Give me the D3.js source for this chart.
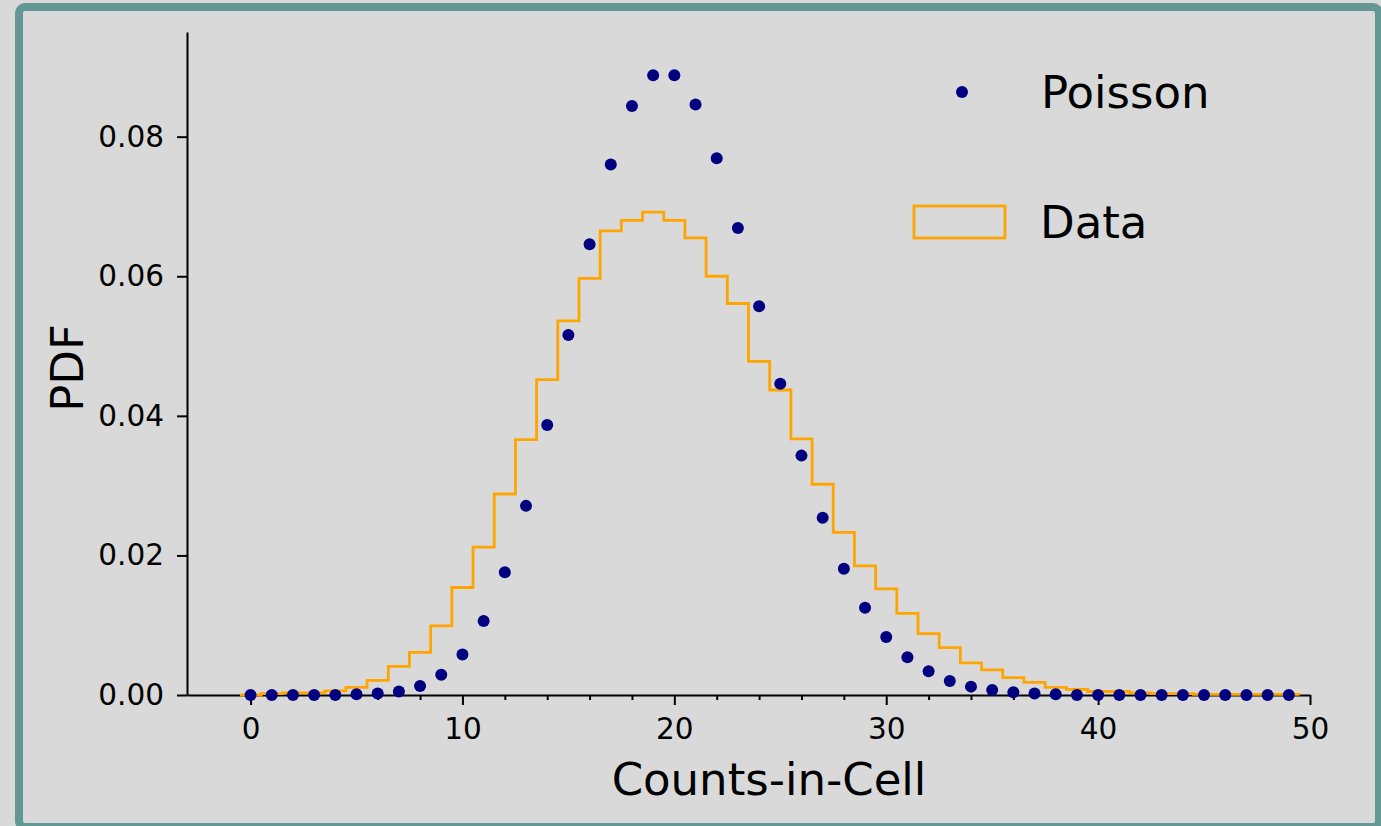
<!DOCTYPE html>
<html>
<head>
<meta charset="utf-8">
<script src="https://cdn.jsdelivr.net/npm/d3@7"></script>
<style>
	body { margin: 0; background: #d9d9d9; }
	svg { display: block; font-family: "DejaVu Sans", sans-serif; }
</style>
</head>
<body>
<div id="chart"></div>
<script>
// counts-in-cell k = 0..49
const counts = d3.range(0, 50);

// Poisson points
const poissonVals = [
	0.0000, 0.0000, 0.0000, 0.0000, 0.0000, 0.0001, 0.0002, 0.0005, 0.0013, 0.0029,
	0.0058, 0.0106, 0.0176, 0.0271, 0.0387, 0.0516, 0.0646, 0.0760, 0.0844, 0.0888,
	0.0888, 0.0846, 0.0769, 0.0669, 0.0557, 0.0446, 0.0343, 0.0254, 0.0181, 0.0125,
	0.0083, 0.0054, 0.0034, 0.0020, 0.0012, 0.0007, 0.0004, 0.0002, 0.0001, 0.0000,
	0.0000, 0.0000, 0.0000, 0.0000, 0.0000, 0.0000, 0.0000, 0.0000, 0.0000, 0.0000
];

// histogram of the data, one bin per count
const dataVals = [
	0.0000, 0.0002, 0.0003, 0.0003, 0.0006, 0.0011, 0.0021, 0.0041, 0.0061, 0.0099,
	0.0154, 0.0212, 0.0288, 0.0366, 0.0452, 0.0536, 0.0597, 0.0665, 0.0680, 0.0692,
	0.0680, 0.0655, 0.0600, 0.0561, 0.0478, 0.0437, 0.0367, 0.0302, 0.0233, 0.0185,
	0.0152, 0.0117, 0.0088, 0.0068, 0.0046, 0.0036, 0.0025, 0.0018, 0.0011, 0.0008,
	0.0005, 0.0005, 0.0003, 0.0002, 0.0002, 0.0001, 0.0001, 0.0001, 0.0001, 0.0001
];

const xMajorTicks = [0, 10, 20, 30, 40, 50];
const xMinorTicks = [2, 4, 6, 8, 12, 14, 16, 18, 22, 24, 26, 28, 32, 34, 36, 38, 42, 44, 46, 48];
const yTicks = [0, 0.02, 0.04, 0.06, 0.08];

const seriesNames = ["Poisson", "Data"];

function createChart() {
	width = 1381;
	height = 826;

	x = d3.scaleLinear().domain([-3, 50]).range([187, 1310]);
	y = d3.scaleLinear().domain([0, 0.095]).range([695, 32]);

	const svg = d3
		.select("div#chart")
		.append("svg")
		.attr("width", width)
		.attr("height", height);

	svg.append("rect")
		.attr("width", width)
		.attr("height", height)
		.attr("fill", "#d9d9d9");

	// teal frame
	svg.append("rect")
		.attr("x", 19)
		.attr("y", 7)
		.attr("width", 1360)
		.attr("height", 820)
		.attr("rx", 6)
		.attr("fill", "none")
		.attr("stroke", "#639794")
		.attr("stroke-width", 8);

	// minor x ticks
	svg.append("g")
		.attr("transform", `translate(0, ${y(0)})`)
		.call(d3.axisBottom(x).tickValues(xMinorTicks).tickSize(5).tickFormat(""))
		.call((g) => g.select(".domain").remove())
		.call((g) => g.selectAll("line").attr("stroke", "#000").attr("stroke-width", 2));

	svg.append("g")
		.attr("class", "xAxis")
		.attr("transform", `translate(0, ${y(0)})`)
		.call(d3.axisBottom(x).tickValues(xMajorTicks).tickSize(10).tickPadding(13).tickSizeOuter(0))
		.call((g) => g.select(".domain").attr("stroke", "#000").attr("stroke-width", 2))
		.call((g) => g.selectAll("line").attr("stroke", "#000").attr("stroke-width", 2))
		.call((g) => g.selectAll("text").attr("font-size", 29.5).attr("font-family", "DejaVu Sans").attr("fill", "#000"));

	svg.append("g")
		.attr("class", "yAxis")
		.attr("transform", `translate(${x(-3)}, 0)`)
		.call(d3.axisLeft(y).tickValues(yTicks).tickSize(10).tickPadding(13).tickSizeOuter(0).tickFormat(d3.format(".2f")))
		.call((g) => g.select(".domain").attr("stroke", "#000").attr("stroke-width", 2))
		.call((g) => g.selectAll("line").attr("stroke", "#000").attr("stroke-width", 2))
		.call((g) => g.selectAll("text").attr("font-size", 29.5).attr("font-family", "DejaVu Sans").attr("fill", "#000"));

	// step outline of the data histogram
	const steps = [{ x: counts[0] - 0.5, v: 0 }]
		.concat(counts.map((k, i) => ({ x: k - 0.5, v: dataVals[i] })))
		.concat([
			{ x: counts[counts.length - 1] + 0.5, v: dataVals[dataVals.length - 1] },
			{ x: counts[counts.length - 1] + 0.5, v: 0 }
		]);

	stepLine = d3
		.line()
		.x((d) => x(d.x))
		.y((d) => y(d.v))
		.curve(d3.curveStepAfter);

	svg.append("path")
		.datum(steps)
		.attr("fill", "none")
		.attr("stroke", "#ffa500")
		.attr("stroke-width", 2.8)
		.attr("d", stepLine);

	svg.append("g")
		.selectAll("circle")
		.data(counts)
		.join("circle")
		.attr("cx", (k) => x(k))
		.attr("cy", (k, i) => y(poissonVals[i]))
		.attr("r", 6)
		.attr("fill", "#000080");

	// legend
	const legend = svg.append("g").attr("font-size", 45).attr("fill", "#000");
	legend.append("circle")
		.attr("cx", 962)
		.attr("cy", 92)
		.attr("r", 6)
		.attr("fill", "#000080");
	legend.append("text")
		.attr("x", 1041)
		.attr("y", 108)
		.text(seriesNames[0]);
	legend.append("rect")
		.attr("x", 914)
		.attr("y", 206)
		.attr("width", 91)
		.attr("height", 32)
		.attr("fill", "none")
		.attr("stroke", "#ffa500")
		.attr("stroke-width", 2.8);
	legend.append("text")
		.attr("x", 1040)
		.attr("y", 238)
		.text(seriesNames[1]);

	svg.append("text")
		.attr("x", 769)
		.attr("y", 795)
		.attr("text-anchor", "middle")
		.attr("font-size", 45)
		.text("Counts-in-Cell");

	svg.append("text")
		.attr("transform", "translate(83, 368) rotate(-90)")
		.attr("text-anchor", "middle")
		.attr("font-size", 45)
		.text("PDF");
}

createChart();
</script>
</body>
</html>
